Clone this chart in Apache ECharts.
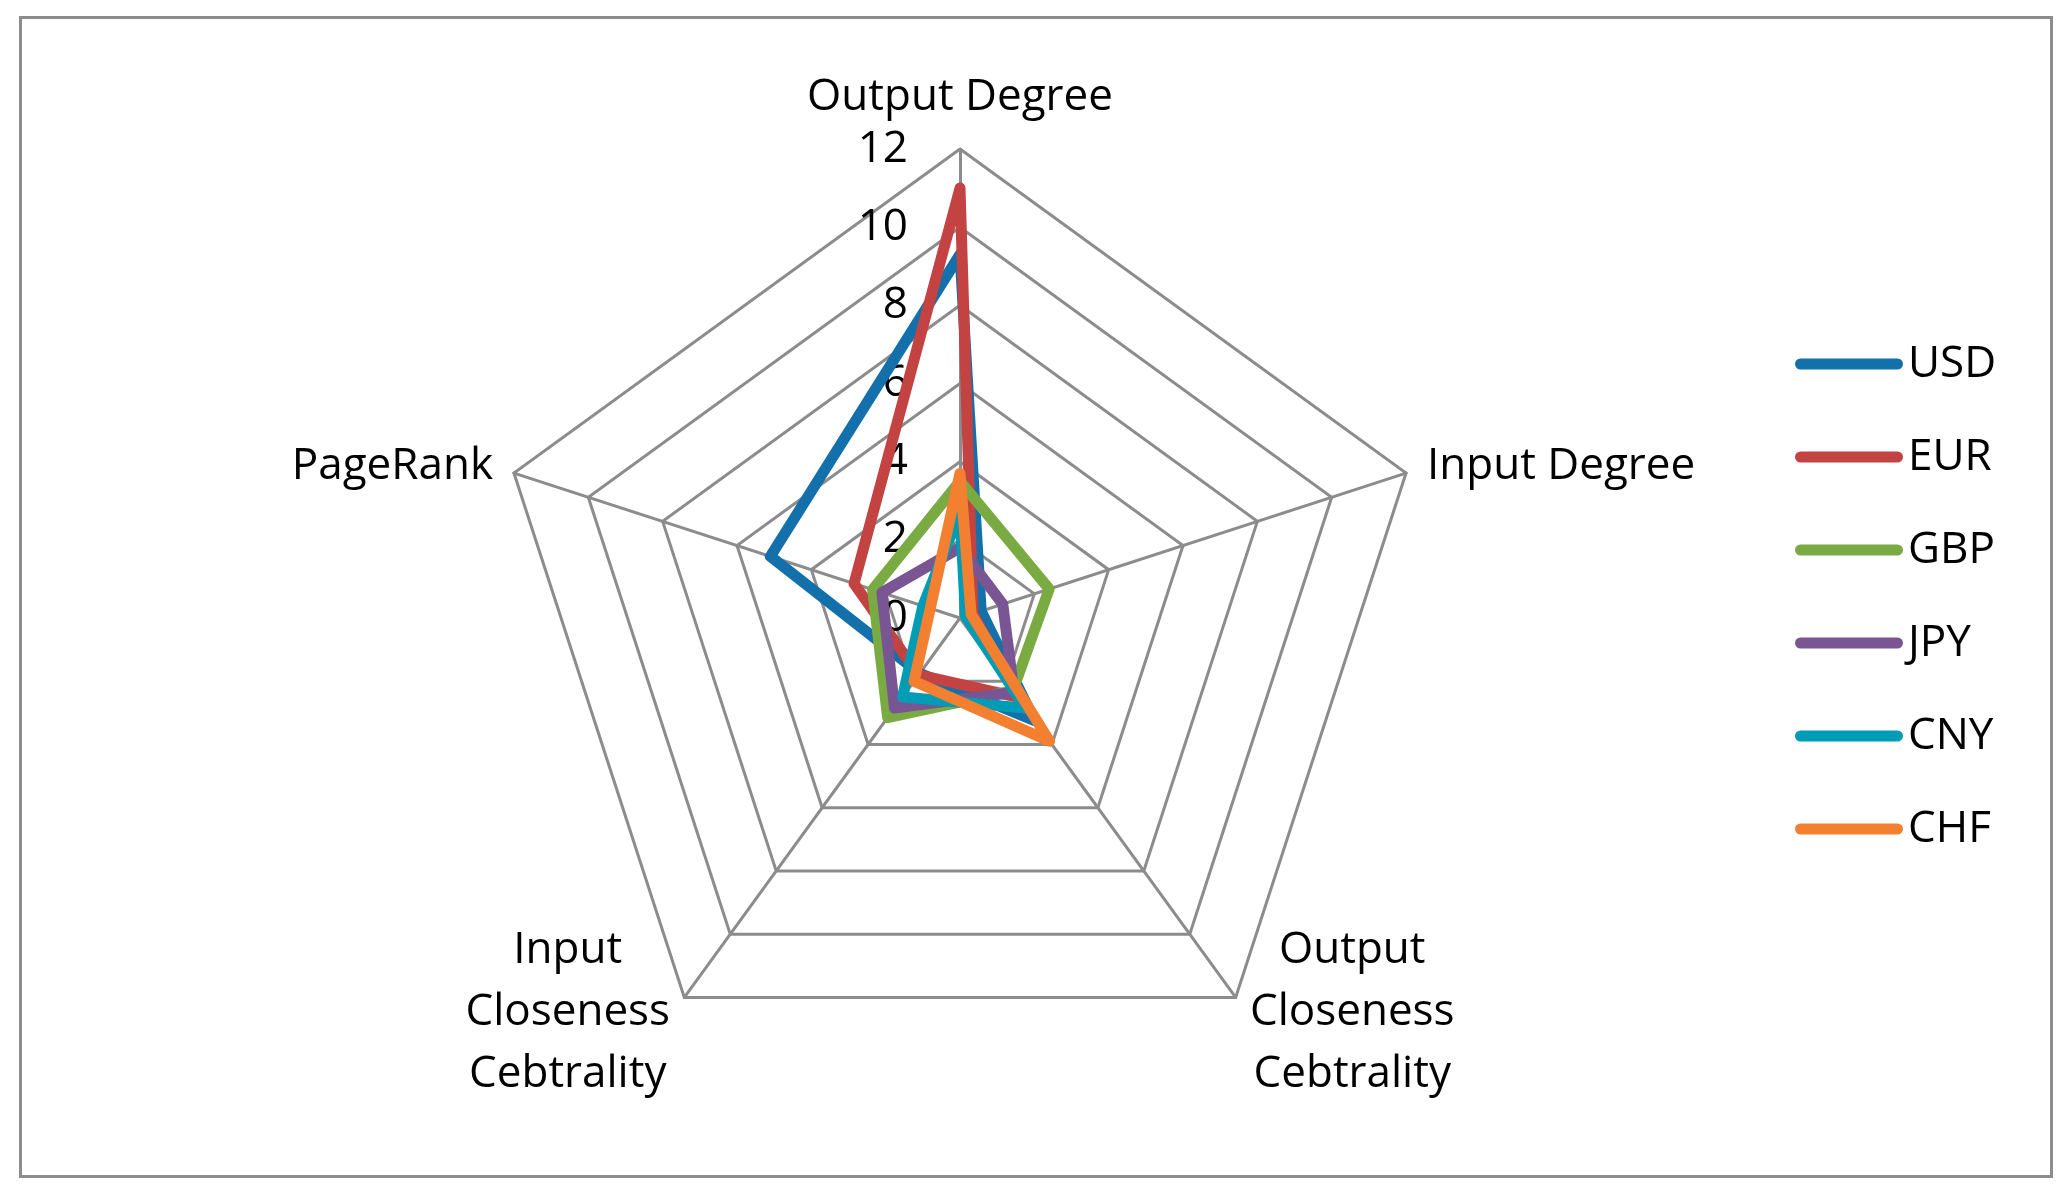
<!DOCTYPE html>
<html>
<head>
<meta charset="utf-8">
<script src="https://cdn.jsdelivr.net/npm/echarts@6/dist/echarts.min.js"></script>
<style>
  html, body { margin: 0; padding: 0; background: #fff; }
  #chart { width: 2070px; height: 1195px; }
  #frame { position: absolute; left: 19px; top: 16px; width: 2028px; height: 1156px; border: 3px solid #8c8c8c; pointer-events: none; }
</style>
</head>
<body>
<div id="chart"></div>
<div id="frame"></div>
<script>
// Indicator order as ECharts lays them out (counter-clockwise from the top)
const indicators = ['Output Degree', 'PageRank', 'Input\nCloseness\nCebtrality', 'Output\nCloseness\nCebtrality', 'Input Degree'];
const axisMax = 12;
const tickStep = 2;

const seriesNames = ['USD', 'EUR', 'GBP', 'JPY', 'CNY', 'CHF'];
const USD = [9.3, 5.1, 1.75, 3.25, 0.57];
const EUR = [11.0, 2.85, 1.8, 2.5, 0.35];
const GBP = [3.5, 2.35, 3.15, 2.3, 2.4];
const JPY = [1.8, 2.1, 2.85, 2.35, 1.15];
const CNY = [2.7, 1.0, 2.5, 2.85, 0.15];
const CHF = [3.7, 0.8, 2.0, 3.9, 0.3];
const seriesValues = [USD, EUR, GBP, JPY, CNY, CHF];
const colors = ['#1470AA', '#C34242', '#7AAA42', '#795594', '#009CB5', '#F28030'];

const FONT = 'Open Sans';
const FS = 44;
const chart = echarts.init(document.getElementById('chart'), null, { renderer: 'canvas' });

const option = {
  backgroundColor: '#fff',
  animation: false,
  legend: {
    orient: 'vertical',
    left: 1790,
    top: 334,
    itemWidth: 108,
    itemHeight: 11,
    itemGap: 43,
    icon: 'path://M5.5,0 L102.5,0 A5.5,5.5 0 0 1 102.5,11 L5.5,11 A5.5,5.5 0 0 1 5.5,0 Z',
    textStyle: { fontFamily: FONT, fontSize: FS, lineHeight: 50, color: '#000', padding: [0, 0, 0, 0] },
    data: seriesNames.map((n, i) => ({ name: n, itemStyle: { color: colors[i] } }))
  },
  radar: {
    center: [960, 618],
    radius: 469,
    startAngle: 90,
    shape: 'polygon',
    splitNumber: axisMax / tickStep,
    nameGap: 22,
    axisName: {
      color: '#000',
      fontFamily: FONT,
      fontSize: FS,
      formatter: function (n) {
        return n.indexOf('\n') >= 0 ? n.split('\n').map(s => '{c|' + s + '}').join('\n') : n;
      },
      rich: {
        c: { width: 212, align: 'center', fontFamily: FONT, fontSize: FS, lineHeight: 62, color: '#000' }
      }
    },
    axisLine: { lineStyle: { color: '#8c8c8c', width: 3 } },
    splitLine: { lineStyle: { color: '#8c8c8c', width: 3 } },
    splitArea: { show: false },
    axisTick: { show: false },
    axisLabel: { show: false },
    indicator: indicators.map((n, i) => {
      const ind = { name: n, min: 0, max: axisMax };
      if (i === 0) {
        ind.nameGap = 30;
        ind.axisLabel = { show: true, margin: 52, color: '#000', fontFamily: FONT, fontSize: FS, showMinLabel: true, showMaxLabel: true };
      } else if (n.indexOf('\n') >= 0) {
        ind.nameGap = 18;
      }
      return ind;
    })
  },
  series: [{
    type: 'radar',
    symbol: 'none',
    data: seriesNames.map((n, i) => ({
      name: n,
      value: seriesValues[i],
      lineStyle: { color: colors[i], width: 11, join: 'round', cap: 'round' },
      itemStyle: { color: colors[i] },
      areaStyle: null
    }))
  }]
};
chart.setOption(option);
</script>
</body>
</html>
